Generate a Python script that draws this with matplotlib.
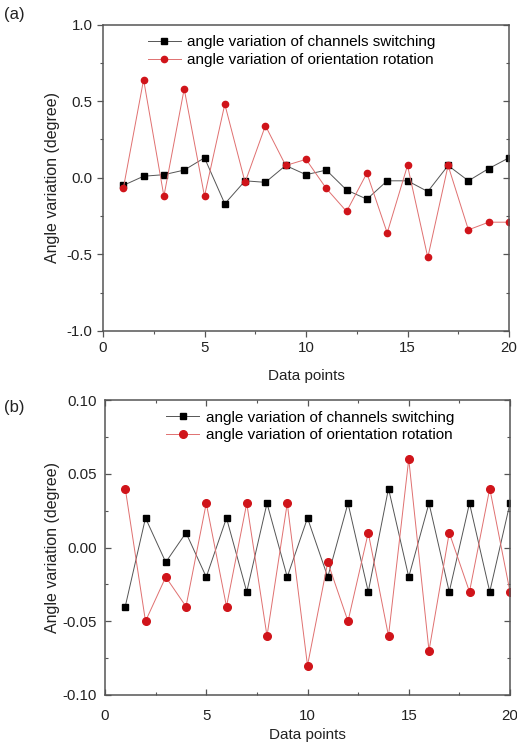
import numpy as np
import matplotlib
matplotlib.use('Agg')
import matplotlib.pyplot as plt
from matplotlib.ticker import MultipleLocator

plt.rcParams['font.family'] = ['Liberation Sans', 'DejaVu Sans']

# data points
points = list(range(1, 21))

# panel (a)
switch_a = [-0.05, 0.01, 0.02, 0.05, 0.13, -0.17, -0.02, -0.03, 0.08, 0.02,
            0.05, -0.08, -0.14, -0.02, -0.02, -0.09, 0.08, -0.02, 0.06, 0.13]
rotate_a = [-0.07, 0.64, -0.12, 0.58, -0.12, 0.48, -0.03, 0.34, 0.08, 0.12,
            -0.07, -0.22, 0.03, -0.36, 0.08, -0.52, 0.08, -0.34, -0.29, -0.29]

# panel (b)
switch_b = [-0.04, 0.02, -0.01, 0.01, -0.02, 0.02, -0.03, 0.03, -0.02, 0.02,
            -0.02, 0.03, -0.03, 0.04, -0.02, 0.03, -0.03, 0.03, -0.03, 0.03]
rotate_b = [0.04, -0.05, -0.02, -0.04, 0.03, -0.04, 0.03, -0.06, 0.03, -0.08,
            -0.01, -0.05, 0.01, -0.06, 0.06, -0.07, 0.01, -0.03, 0.04, -0.03]

label_sw = 'angle variation of channels switching'
label_rot = 'angle variation of orientation rotation'

W, H = 517, 745
fig = plt.figure(figsize=(W / 100, H / 100), dpi=100)
fig.patch.set_facecolor('white')

ax_a = fig.add_axes([103 / W, 1 - 331 / H, 406 / W, 306.5 / H])
ax_b = fig.add_axes([105 / W, 1 - 695 / H, 405 / W, 295 / H])

spine_col = '#555555'
txt_col = '#222222'


def style(ax, ylim, ymaj, ymin, yfmt, xpad, ypad):
    ax.set_xlim(0, 20)
    ax.set_ylim(*ylim)
    ax.xaxis.set_major_locator(MultipleLocator(5))
    ax.xaxis.set_minor_locator(MultipleLocator(2.5))
    ax.yaxis.set_major_locator(MultipleLocator(ymaj))
    ax.yaxis.set_minor_locator(MultipleLocator(ymin))
    ax.yaxis.set_major_formatter(plt.FormatStrFormatter(yfmt))
    for s in ax.spines.values():
        s.set_color(spine_col)
        s.set_linewidth(1.1)
    ax.tick_params(which='both', colors=spine_col, labelcolor=txt_col,
                   labelsize=10.8)
    ax.tick_params(which='major', length=4, width=0.9)
    ax.tick_params(which='minor', length=2.5, width=0.8)
    ax.set_xlabel('Data points', fontsize=11, color=txt_col, labelpad=xpad)
    ax.set_ylabel('Angle variation (degree)', fontsize=11.5, color=txt_col,
                  labelpad=ypad)


# ---- panel (a)
style(ax_a, (-1.0, 1.0), 0.5, 0.25, '%.1f', 10, 5)
ax_a.tick_params(which='both', direction='out')
# inward ticks on the right spine
ax_ar = ax_a.twinx()
ax_ar.set_ylim(-1.0, 1.0)
ax_ar.yaxis.set_major_locator(MultipleLocator(0.5))
ax_ar.yaxis.set_minor_locator(MultipleLocator(0.25))
ax_ar.tick_params(which='both', direction='in', colors=spine_col,
                  labelright=False)
ax_ar.tick_params(which='major', length=4, width=0.9)
ax_ar.tick_params(which='minor', length=2.5, width=0.8)
for s in ax_ar.spines.values():
    s.set_visible(False)

ax_a.plot(points, switch_a, color='#555555', lw=0.7, marker='s', ms=4,
          mfc='black', mec='black', label=label_sw)
ax_a.plot(points, rotate_a, color='#e07070', lw=0.7, marker='o', ms=4.5,
          mfc='#d0141a', mec='#d0141a', label=label_rot)
ax_a.legend(loc='upper left', bbox_to_anchor=(0.095, 0.985), frameon=False,
            fontsize=11, handlelength=2.2, handletextpad=0.4,
            labelspacing=0.25, borderaxespad=0)
ax_a.text(-0.245, 1.031, '(a)', transform=ax_a.transAxes, fontsize=12,
          color=txt_col, va='center')

# ---- panel (b)
style(ax_b, (-0.10, 0.10), 0.05, 0.025, '%.2f', 4, 1.5)
ax_b.tick_params(which='both', direction='in', top=True, right=True)
ax_b.tick_params(axis='x', which='major', pad=10)
ax_b.tick_params(axis='y', which='major', pad=6)
ax_b.plot(points, switch_b, color='#555555', lw=0.7, marker='s', ms=5,
          mfc='black', mec='black', label=label_sw)
ax_b.plot(points, rotate_b, color='#e07070', lw=0.7, marker='o', ms=5.5,
          mfc='#d0141a', mec='#d0141a', label=label_rot)
ax_b.legend(loc='upper left', bbox_to_anchor=(0.135, 0.985), frameon=False,
            fontsize=11, handlelength=2.2, handletextpad=0.4,
            labelspacing=0.25, borderaxespad=0)
ax_b.text(-0.249, 0.973, '(b)', transform=ax_b.transAxes, fontsize=12,
          color=txt_col, va='center')

fig.savefig('out.png', dpi=100, facecolor='white')
